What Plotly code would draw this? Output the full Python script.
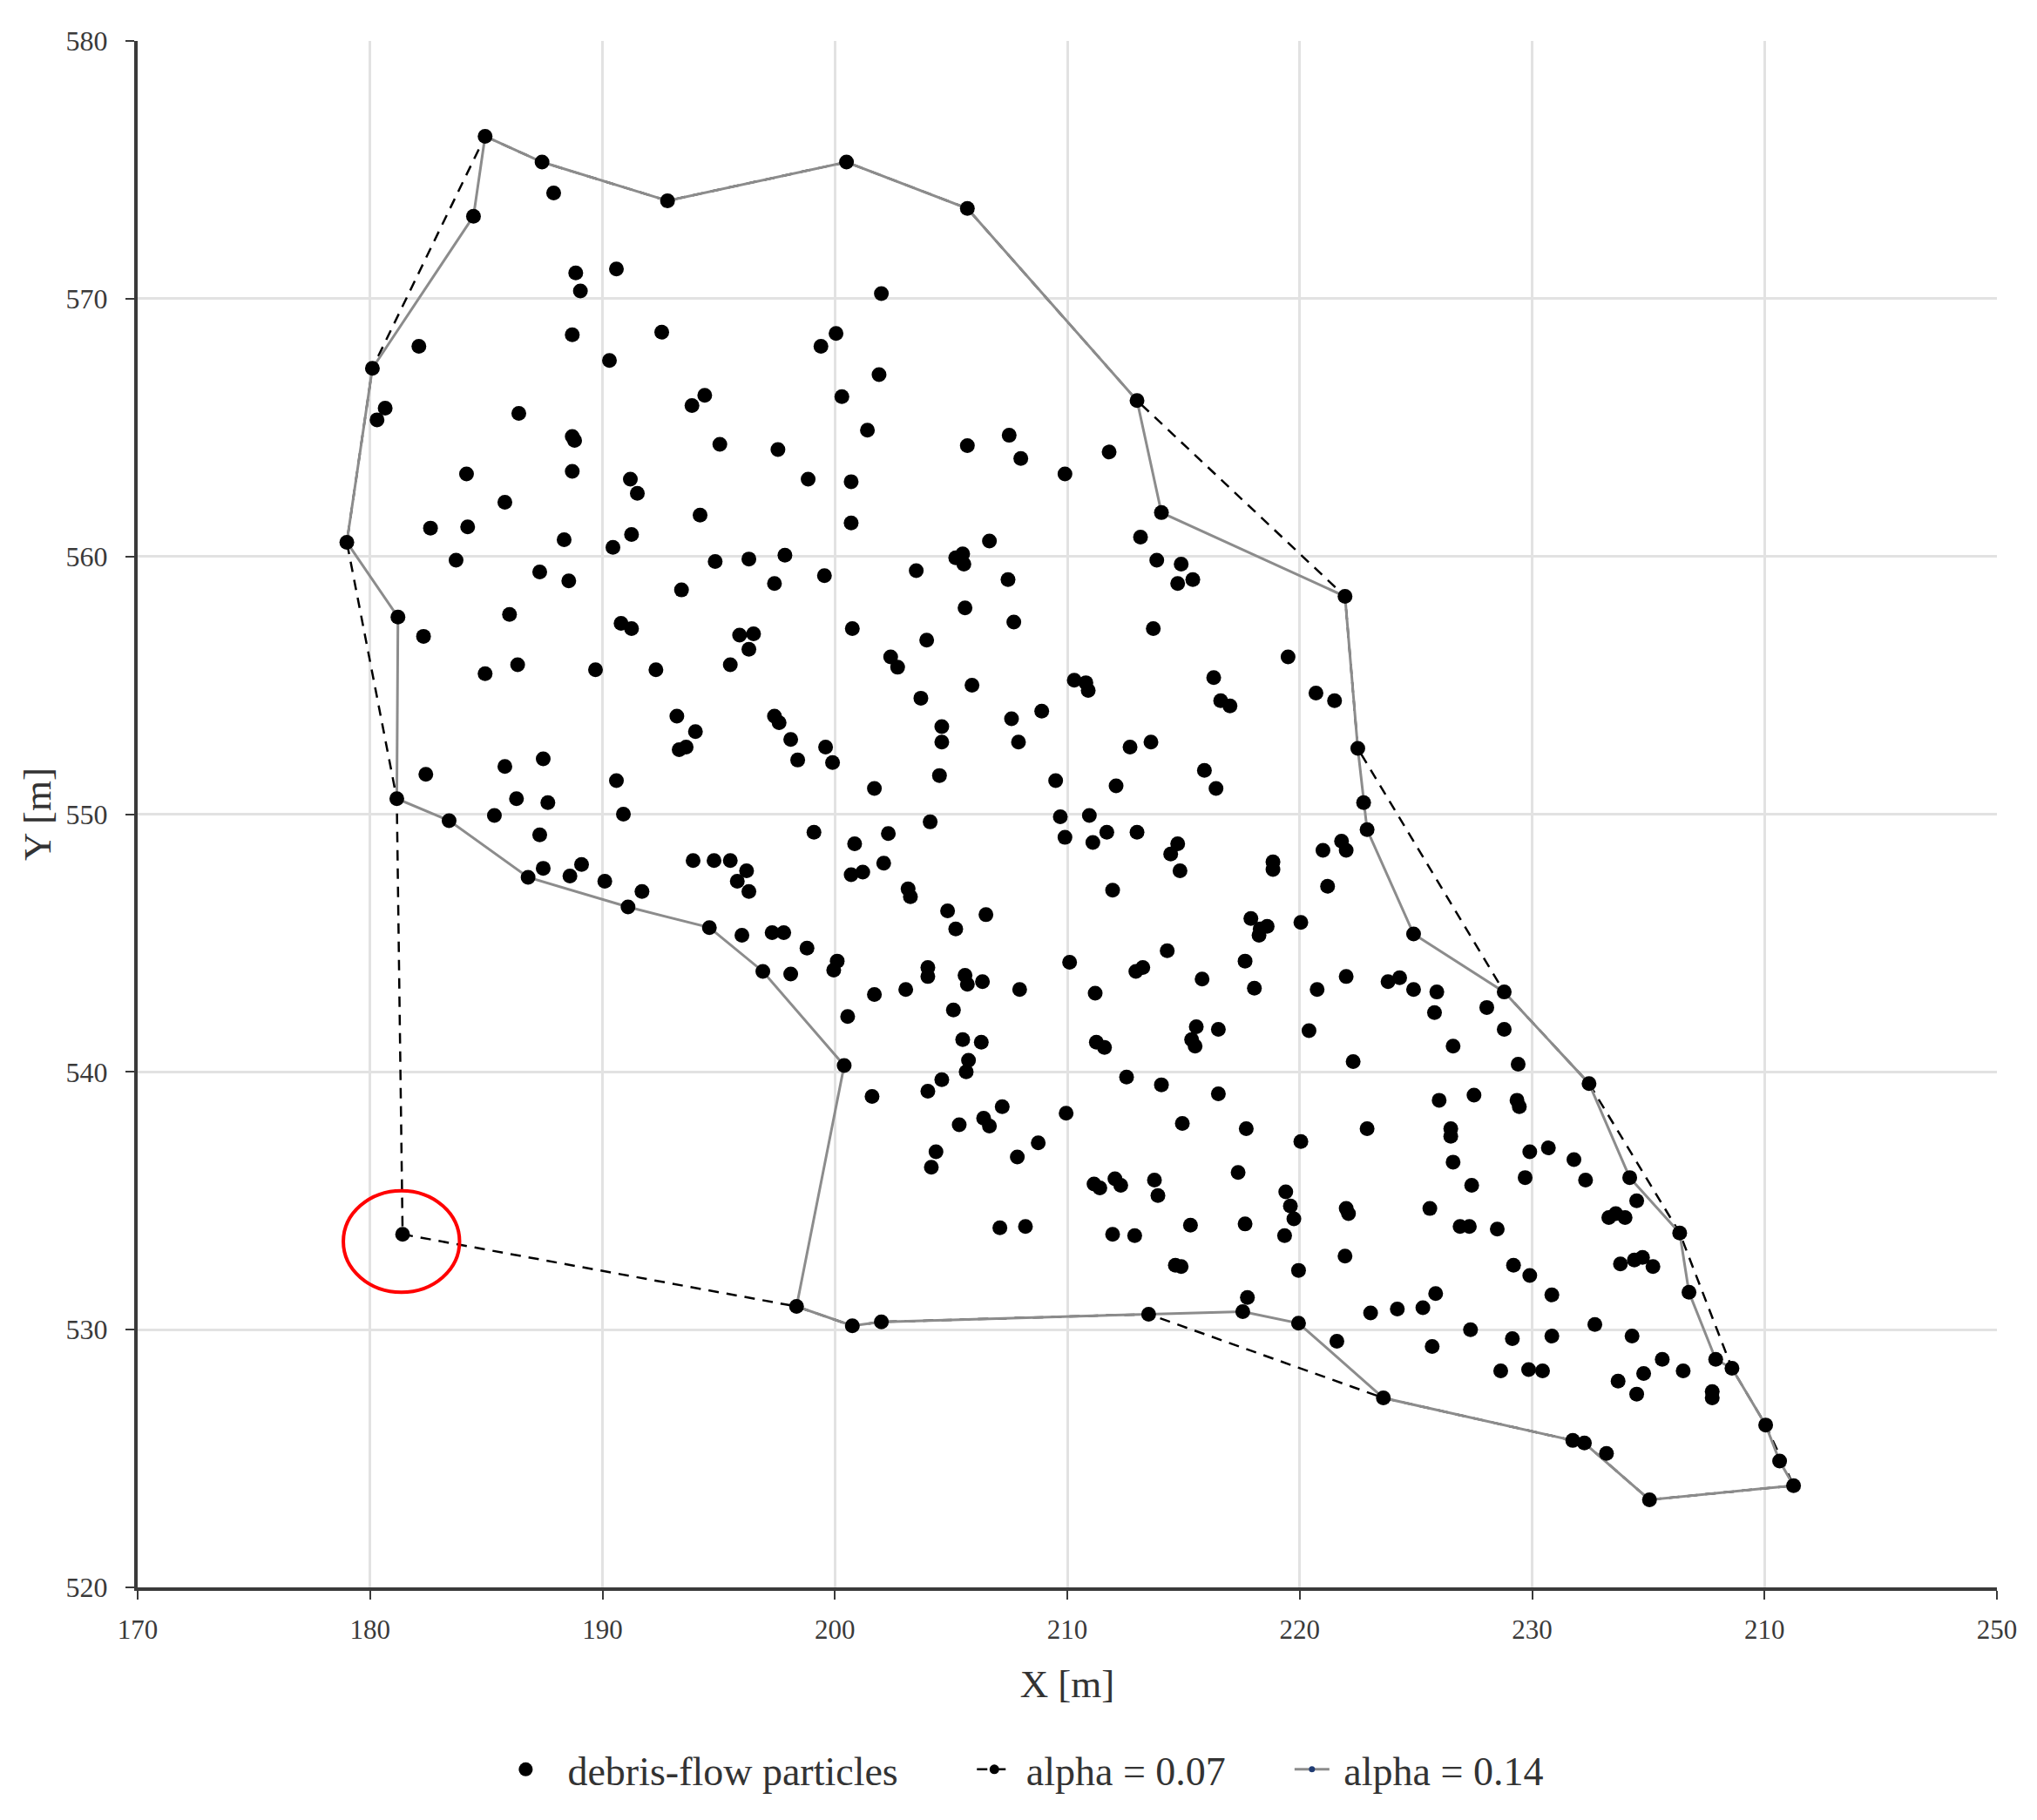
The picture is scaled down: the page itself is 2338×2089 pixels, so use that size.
import plotly.graph_objects as go

# hull vertices (also particles), order matches index lists below
hull_vertices = [
    (184.95, 576.3), (187.4, 575.3), (192.8, 573.8), (200.5, 575.3), (205.7, 573.5),
    (213.0, 566.05), (214.05, 561.7), (221.95, 558.45), (222.5, 552.55), (222.75, 550.45),
    (222.9, 549.4), (224.9, 545.35), (228.8, 543.1), (232.45, 539.55), (234.2, 535.9),
    (236.35, 533.75), (236.75, 531.45), (237.9, 528.85), (238.6, 528.5), (240.05, 526.3),
    (240.65, 524.9), (241.25, 523.95), (235.05, 523.4), (232.25, 525.6), (231.75, 525.7),
    (223.6, 527.35), (219.95, 530.25), (217.55, 530.7), (213.5, 530.6), (202.0, 530.3),
    (200.75, 530.15), (198.35, 530.9), (200.4, 540.25), (196.9, 543.9), (194.6, 545.6),
    (191.1, 546.4), (186.8, 547.55), (183.4, 549.75), (181.15, 550.6), (181.2, 557.65),
    (179.0, 560.55), (180.1, 567.3), (184.45, 573.2), (181.4, 533.7),
]

alpha_014_order = [0, 1, 2, 3, 4, 5, 6, 7, 8, 9, 10, 11, 12, 13, 14, 15, 16, 17, 18, 19,
                   20, 21, 22, 23, 24, 25, 26, 27, 28, 29, 30, 31, 32, 33, 34, 35, 36, 37,
                   38, 39, 40, 41, 42, 0]
alpha_007_order = [0, 1, 2, 3, 4, 5, 7, 8, 12, 13, 15, 18, 19, 21, 22, 23, 24, 25, 28, 29,
                   30, 31, 43, 38, 40, 41, 0]

top_points = [
    (187.9, 574.1), (188.85, 571.0), (189.05, 570.3), (190.6, 571.15), (202.0, 570.2),
    (182.1, 568.15), (188.7, 568.6), (192.55, 568.7), (190.3, 567.6), (200.05, 568.65),
    (199.4, 568.15), (201.9, 567.05), (200.3, 566.2), (194.4, 566.25), (193.85, 565.85),
    (186.4, 565.55), (180.65, 565.75), (180.3, 565.3), (188.7, 564.65), (188.8, 564.5),
    (201.4, 564.9), (205.7, 564.3), (195.05, 564.35), (197.55, 564.15), (184.15, 563.2),
    (188.7, 563.3), (191.2, 563.0), (191.5, 562.45), (198.85, 563.0), (200.7, 562.9),
    (185.8, 562.1), (194.2, 561.6), (200.7, 561.3), (182.6, 561.1), (184.2, 561.15),
    (188.35, 560.65), (191.25, 560.85), (190.45, 560.35), (183.7, 559.85), (194.85, 559.8),
    (196.3, 559.9), (197.85, 560.05), (187.3, 559.4), (188.55, 559.05), (193.4, 558.7),
    (197.4, 558.95), (199.55, 559.25), (203.5, 559.45), (205.2, 559.95), (205.5, 560.1),
    (205.55, 559.7), (205.6, 558.0), (182.3, 556.9), (186.0, 557.75), (190.8, 557.4),
    (191.25, 557.2), (195.9, 556.95), (196.5, 557.0), (200.75, 557.2), (203.95, 556.75),
    (207.5, 564.7), (208.0, 563.8), (209.9, 563.2), (211.8, 564.05), (213.15, 560.75),
    (206.65, 560.6), (213.85, 559.85), (214.9, 559.7), (214.75, 558.95), (215.4, 559.1),
    (207.45, 559.1), (207.7, 557.45), (213.7, 557.2),
]

mid_points = [
    (186.35, 555.8), (184.95, 555.45), (185.8, 551.85), (187.45, 552.15), (182.4, 551.55),
    (186.3, 550.6), (187.65, 550.45), (185.35, 549.95), (187.3, 549.2), (187.45, 547.9),
    (188.6, 547.6), (189.1, 548.05), (189.7, 555.6), (192.3, 555.6), (195.5, 555.8),
    (196.3, 556.4), (202.4, 556.1), (202.7, 555.7), (205.9, 555.0), (210.3, 555.2),
    (210.8, 555.1), (210.9, 554.8), (216.3, 555.3), (216.6, 554.4), (217.0, 554.2),
    (219.5, 556.1), (220.7, 554.7), (221.5, 554.4), (203.7, 554.5), (204.6, 553.4),
    (193.2, 553.8), (194.0, 553.2), (193.3, 552.5), (193.6, 552.6), (197.4, 553.8),
    (197.6, 553.55), (198.1, 552.9), (198.4, 552.1), (199.6, 552.6), (199.9, 552.0),
    (204.6, 552.8), (204.5, 551.5), (207.6, 553.7), (207.9, 552.8), (208.9, 554.0),
    (212.7, 552.6), (213.6, 552.8), (212.1, 551.1), (215.9, 551.7), (216.4, 551.0),
    (190.6, 551.3), (201.7, 551.0), (209.5, 551.3), (190.9, 550.0), (199.1, 549.3),
    (202.3, 549.25), (204.1, 549.7), (209.7, 549.9), (210.95, 549.95), (211.7, 549.3),
    (213.0, 549.3), (190.1, 547.4), (191.7, 547.0), (193.9, 548.2), (194.8, 548.2),
    (195.5, 548.2), (195.8, 547.4), (196.2, 547.8), (196.3, 547.0), (196.0, 545.3),
    (197.3, 545.4), (197.8, 545.4), (198.8, 544.8), (198.1, 543.8),
]

centre_points = [
    (200.85, 548.85), (202.1, 548.1), (200.7, 547.65), (201.2, 547.75), (203.15, 547.1),
    (203.25, 546.8), (204.85, 546.25), (206.5, 546.1), (205.2, 545.55), (209.9, 549.1),
    (211.1, 548.9), (214.75, 548.85), (214.45, 548.45), (214.85, 547.8), (218.85, 548.15),
    (218.85, 547.85), (211.95, 547.05), (218.25, 545.3), (217.9, 545.95), (218.3, 545.55),
    (218.6, 545.65), (220.05, 545.8), (214.3, 544.7), (210.1, 544.25), (212.95, 543.9),
    (213.25, 544.05), (217.65, 544.3), (215.8, 543.6), (218.05, 543.25), (200.1, 544.3),
    (199.95, 543.95), (204.0, 544.05), (204.0, 543.7), (205.6, 543.75), (205.7, 543.4),
    (206.35, 543.5), (203.05, 543.2), (201.7, 543.0), (207.95, 543.2), (211.2, 543.05),
    (200.55, 542.15), (205.1, 542.4), (215.55, 541.75), (215.35, 541.25), (215.5, 541.0),
    (216.5, 541.65), (220.4, 541.6), (205.5, 541.25), (206.3, 541.15), (211.25, 541.15),
    (211.6, 540.95), (205.75, 540.45), (205.65, 540.0), (212.55, 539.8), (214.05, 539.5),
    (204.6, 539.7), (204.0, 539.25), (201.6, 539.05), (216.5, 539.15), (207.2, 538.65),
    (206.4, 538.2), (206.65, 537.9), (205.35, 537.95), (209.95, 538.4), (214.95, 538.0),
    (217.7, 537.8), (220.05, 537.3), (204.35, 536.9), (204.15, 536.3), (208.75, 537.25),
    (207.85, 536.7), (217.35, 536.1), (211.15, 535.65), (211.4, 535.5), (212.05, 535.85),
    (212.3, 535.6), (213.75, 535.8), (213.9, 535.2), (219.4, 535.35), (219.6, 534.8),
    (219.75, 534.3), (207.1, 533.95), (208.2, 534.0), (211.95, 533.7), (212.9, 533.65),
    (215.3, 534.05), (217.65, 534.1), (219.35, 533.65),
]

right_points = [
    (221.0, 548.6), (221.8, 548.95), (222.0, 548.6), (221.2, 547.2), (222.0, 543.7),
    (220.75, 543.2), (223.8, 543.5), (224.3, 543.65), (224.9, 543.2), (225.9, 543.1),
    (225.8, 542.3), (228.05, 542.5), (228.8, 541.65), (226.6, 541.0), (229.4, 540.3),
    (222.3, 540.4), (226.0, 538.9), (227.5, 539.1), (229.35, 538.9), (229.45, 538.65),
    (222.9, 537.8), (222.0, 534.7), (222.1, 534.5), (225.6, 534.7), (226.5, 537.8),
    (226.5, 537.5), (226.6, 536.5), (227.4, 535.6), (226.9, 534.0), (227.3, 534.0),
    (228.5, 533.9), (229.9, 536.9), (230.7, 537.05), (231.8, 536.6), (229.7, 535.9),
    (232.3, 535.8), (234.5, 535.0), (233.3, 534.35), (233.6, 534.5), (234.0, 534.35),
    (233.8, 532.55), (234.4, 532.7), (234.75, 532.8), (235.2, 532.45), (234.3, 529.75),
    (233.7, 528.0), (234.8, 528.3), (234.5, 527.5), (235.6, 528.85), (236.5, 528.4),
    (237.75, 527.6), (237.75, 527.35), (233.2, 525.2),
]

bottom_points = [
    (217.75, 531.25), (214.65, 532.5), (214.9, 532.45), (219.95, 532.3), (221.95, 532.85),
    (221.6, 529.55), (223.05, 530.65), (224.2, 530.8), (225.3, 530.85), (225.85, 531.4),
    (225.7, 529.35), (227.35, 530.0), (228.65, 528.4), (229.85, 528.45), (230.45, 528.4),
    (229.15, 529.65), (229.2, 532.5), (229.9, 532.1), (230.85, 531.35), (230.85, 529.75),
    (232.7, 530.2),
]

x_tick_vals = [170, 180, 190, 200, 210, 220, 230, 240, 250]
x_tick_text = ['170', '180', '190', '200', '210', '220', '230', '210', '250']
y_tick_vals = [520, 530, 540, 550, 560, 570, 580]

# highlighted particle (red ring)
ring_center = (181.35, 533.42)
ring_radius = (2.5, 1.97)

particles = hull_vertices + top_points + mid_points + centre_points + right_points + bottom_points
px = [p[0] for p in particles]
py = [p[1] for p in particles]

serif = 'Liberation Serif'
sp = '\u00a0'

fig = go.Figure()

# dashed hull drawn first so the grey hull sits on top where they coincide
fig.add_trace(go.Scatter(
    x=[hull_vertices[i][0] for i in alpha_007_order],
    y=[hull_vertices[i][1] for i in alpha_007_order],
    mode='lines+markers',
    name=sp + 'alpha = 0.07' + sp * 6,
    line=dict(color='black', width=2.5, dash='12px,9px'),
    marker=dict(color='black', size=11),
    legendrank=2,
))
fig.add_trace(go.Scatter(
    x=[hull_vertices[i][0] for i in alpha_014_order],
    y=[hull_vertices[i][1] for i in alpha_014_order],
    mode='lines+markers',
    name=sp + 'alpha = 0.14',
    line=dict(color='#8c8c8c', width=3),
    marker=dict(color='#1f3b73', size=7),
    legendrank=3,
))
fig.add_trace(go.Scatter(
    x=px, y=py,
    mode='markers',
    name=sp * 2 + 'debris-flow particles' + sp * 7,
    marker=dict(color='black', size=17),
    legendrank=1,
))

fig.add_shape(
    type='circle', xref='x', yref='y',
    x0=ring_center[0] - ring_radius[0], x1=ring_center[0] + ring_radius[0],
    y0=ring_center[1] - ring_radius[1], y1=ring_center[1] + ring_radius[1],
    line=dict(color='#ff0000', width=4),
)

axis_common = dict(
    showgrid=True, gridcolor='#e2e2e2', gridwidth=3,
    showline=True, linecolor='#3a3a3a', linewidth=4,
    ticks='outside', ticklen=10, tickwidth=2, tickcolor='#3a3a3a',
    zeroline=False, automargin=False,
)

fig.update_layout(
    width=2322, height=2073,
    margin=dict(l=150, r=38, t=39, b=259),
    paper_bgcolor='white', plot_bgcolor='white',
    xaxis=dict(range=[170, 250], tickvals=x_tick_vals, ticktext=x_tick_text,
               tickfont=dict(family=serif, size=31, color='#3a3a3a'), ticklabelstandoff=8,
               title=dict(text='X [m]', font=dict(family=serif, size=45, color='#333333'), standoff=30),
               **axis_common),
    yaxis=dict(range=[520, 580], tickvals=y_tick_vals,
               tickfont=dict(family=serif, size=32, color='#3a3a3a'), ticklabelstandoff=14,
               title=dict(text='Y [m]', font=dict(family=serif, size=45, color='#333333'), standoff=4),
               **axis_common),
    showlegend=True,
    legend=dict(
        orientation='h', x=0.197, xanchor='left', y=-0.1177, yanchor='middle',
        font=dict(family=serif, size=46, color='#333333'),
        bgcolor='rgba(0,0,0,0)', itemwidth=40,
    ),
)

fig.write_html('out.html')
